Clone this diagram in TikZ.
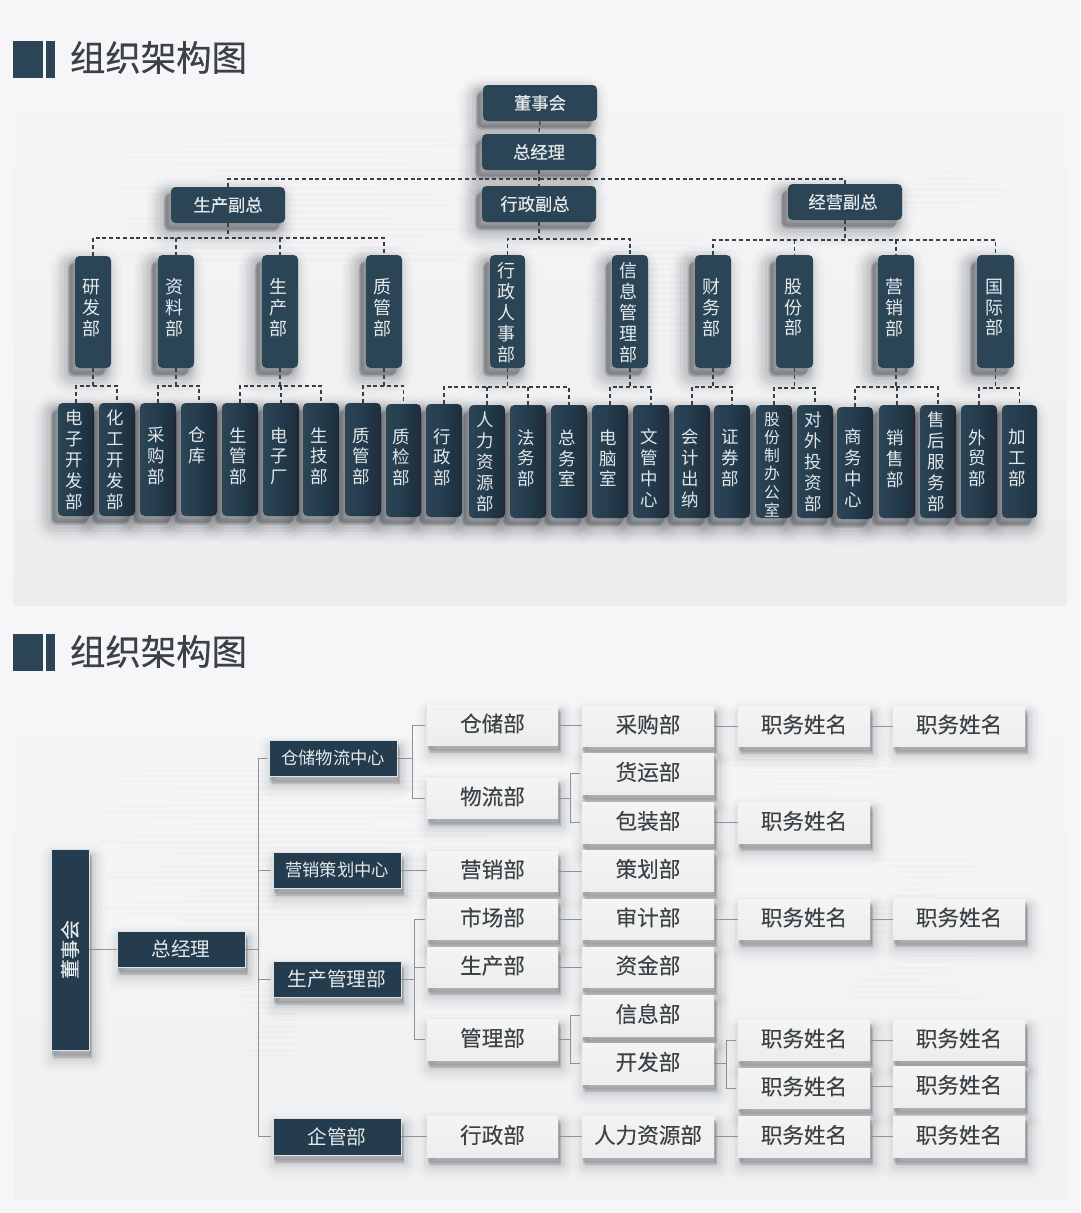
\documentclass[tikz,border=0pt]{standalone}
\usepackage{fontspec}
\setmainfont{Noto Sans CJK SC}
\newfontfamily\heavyfont[FakeBold=0.35]{Noto Sans CJK SC}
\newfontfamily\titlefont[FakeBold=0.45]{Noto Sans CJK SC}
\newfontfamily\softfont[FakeBold=0.12]{Noto Sans CJK SC}
\definecolor{pagebg}{HTML}{F6F6F8}
\definecolor{panelbg}{HTML}{ECEDEF}
\definecolor{navy}{HTML}{2B4556}
\definecolor{navydeep}{HTML}{1F3444}
\definecolor{navyflat}{HTML}{243C4D}
\definecolor{lightbox}{HTML}{F2F2F3}
\definecolor{lighttext}{HTML}{E4E9EC}
\definecolor{inktext}{HTML}{3B4246}
\definecolor{solidline}{HTML}{8C9296}
\definecolor{dashline}{HTML}{3A3F44}
\definecolor{shade}{HTML}{20262C}
\newcommand\bx[7][]{\node[#1,minimum width={(#5-#3)*1pt},minimum height={(#6-#4)*1pt}] (#2) at ({(#3+#5)/2},{(#4+#6)/2}) {#7};}
\newcommand\vst[4]{\makebox[0pt]{\kern\dimexpr#1pt-1pt\relax\raisebox{\dimexpr#2pt-5pt\relax}[0pt][0pt]{\parbox[c]{40pt}{\centering\baselineskip=#3pt\lineskiplimit=-30pt\relax #4}}}}
% dashed tree: parent, bus y, first child, last child, other children
\newcommand\dtree[5]{%
  \coordinate (bus#1) at (0,#2);
  \draw[dashconn] (#1.south) -- (#1.south |- bus#1);
  \draw[dashconn] (#3.north) |- (#4.north |- bus#1) -- (#4.north);
  \foreach \c in {#5}{\draw[dashconn] (\c.north |- bus#1) -- (\c.north);}
}
% solid tree: parent, bus offset, children
\newcommand\stree[3]{%
  \coordinate (j#1) at ([xshift=#2pt]#1.east);
  \draw[solidconn] (#1.east) -- (j#1);
  \foreach \c in {#3}{\draw[solidconn,shorten >=2pt] (j#1) |- (\c.west);}
}
\newcommand\slink[2]{\draw[solidconn] (#1.east) -- (#1.east -| #2.west);}
\tikzset{
  sl/.style n args={4}{preaction={draw=shade,fill=shade,opacity=#1,line width=#2pt,line join=round,transform canvas={xshift=#3pt,yshift=#4pt}}},
  softleft/.style={
    sl={.014}{36}{-7}{-9},sl={.02}{31}{-7}{-9},sl={.028}{26}{-7}{-9},sl={.04}{21}{-7}{-8},
    sl={.05}{16}{-7}{-8},sl={.06}{11}{-6}{-7},sl={.07}{6}{-5}{-6},sl={.08}{2}{-5}{-6}},
  softright/.style={
    sl={.012}{28}{3}{-9},sl={.018}{22}{3}{-9},sl={.024}{17}{3}{-8},sl={.034}{12}{3}{-8},
    sl={.045}{7}{3}{-7},sl={.07}{3}{2}{-6},sl={.10}{.5}{1}{-4}},
  topbox/.style={softleft,rounded corners=4.5pt,fill=navy,text=lighttext,inner sep=0pt,font=\heavyfont\fontsize{17.3}{20}\selectfont},
  midbox/.style={softleft,rounded corners=4.5pt,fill=navy,text=lighttext,inner sep=0pt,font=\fontsize{18}{20}\selectfont},
  lowbox/.style={softleft,rounded corners=4.5pt,left color=navy,right color=navydeep,text=lighttext,inner sep=0pt,font=\fontsize{17.5}{20}\selectfont},
  darkrect/.style={softright,fill=navyflat,draw=white!85!navy,line width=.9pt,text=lighttext,inner sep=0pt},
  paperbox/.style={softright,top color=lightbox!85!white,bottom color=lightbox!98!black,text=inktext,inner sep=0pt,text height=19pt,text depth=5.6pt,font=\softfont\fontsize{21.6}{24}\selectfont},
  dashconn/.style={draw=dashline,line width=1.25pt,dash pattern=on 4pt off 2.8pt},
  solidconn/.style={draw=solidline,line width=1pt},
  titlebar/.style={fill=navy,draw=none,inner sep=0pt},
  titletext/.style={text=inktext,inner sep=0pt,font=\titlefont\fontsize{35.4}{38}\selectfont},
}
\begin{document}
\begin{tikzpicture}[x=1pt,y=-1pt]
\path[use as bounding box,fill=pagebg] (0,0) rectangle (1080,1213);
% panels
\shade[top color=pagebg,bottom color=panelbg] (13,80) rectangle (1067,605);
\shade[top color=pagebg,bottom color=panelbg!60!pagebg] (13,690) rectangle (1067,1200);
% faint map streaks
\begin{scope}[draw=shade,line width=2pt,opacity=.016]
\foreach \yy in {140,146,...,260}{\draw ({170+50*sin(\yy*11)},\yy) -- ({430+50*sin(\yy*13)},\yy);}
\foreach \yy in {240,246,...,340}{\draw ({610+20*sin(\yy*7)},\yy) -- ({700+30*sin(\yy*9)},\yy);}
\foreach \yy in {160,166,...,210}{\draw ({920+30*sin(\yy*5)},\yy) -- ({980+30*sin(\yy*8)},\yy);}
\foreach \yy in {770,776,...,920}{\draw ({150+50*sin(\yy*11)},\yy) -- ({430+60*sin(\yy*13)},\yy);}
\foreach \yy in {760,766,...,800}{\draw ({750+30*sin(\yy*7)},\yy) -- ({860+40*sin(\yy*9)},\yy);}
\foreach \yy in {860,866,...,1000}{\draw ({880+30*sin(\yy*5)},\yy) -- ({950+30*sin(\yy*8)},\yy);}
\foreach \yy in {990,996,...,1060}{\draw ({250+10*sin(\yy*5)},\yy) -- ({300-\yy/30+30},\yy);}
\end{scope}
% titles
\bx[titlebar]{barAa}{13}{41}{43}{78}{}
\bx[titlebar]{barAb}{46}{41}{55}{78}{}
\bx[titletext]{titleA}{70}{40}{247}{75}{组织架构图}
\bx[titlebar]{barBa}{13}{634}{43}{671}{}
\bx[titlebar]{barBb}{46}{634}{55}{671}{}
\bx[titletext]{titleB}{70}{634}{247}{669}{组织架构图}
% ---- upper chart
\bx[topbox]{dsh}{483}{85}{597}{121}{董事会}
\bx[topbox]{zjl}{482}{134}{596}{170}{总经理}
\bx[topbox]{vpa}{171}{187}{285}{223}{生产副总}
\bx[topbox]{vpb}{482}{186}{596}{222}{\kern-8pt 行政副总}
\bx[topbox]{vpc}{788}{184}{902}{220}{\kern-4pt 经营副总}
\bx[midbox]{ya}{75}{256}{111}{368}{\vst{-2}{4.5}{20.6}{研\\发\\部}}
\bx[midbox]{yb}{158}{255}{194}{368}{\vst{-2}{4.5}{20.6}{资\\料\\部}}
\bx[midbox]{yc}{262}{255}{298}{368}{\vst{-2}{4.5}{20.6}{生\\产\\部}}
\bx[midbox]{yd}{366}{255}{402}{368}{\vst{-2}{4.5}{20.6}{质\\管\\部}}
\bx[midbox]{ye}{490}{255}{525}{368}{\vst{-2}{0}{21}{行\\政\\人\\事\\部}}
\bx[midbox]{yf}{612}{255}{648}{368}{\vst{-2}{0}{21}{信\\息\\管\\理\\部}}
\bx[midbox]{yg}{695}{255}{731}{368}{\vst{-2}{4.5}{20.6}{财\\务\\部}}
\bx[midbox]{yh}{776}{255}{813}{368}{\vst{-2}{4.5}{20.6}{股\\份\\部}}
\bx[midbox]{yi}{878}{255}{914}{368}{\vst{-2}{4.5}{20.6}{营\\销\\部}}
\bx[midbox]{yj}{977}{255}{1014}{368}{\vst{-2}{4.5}{20.6}{国\\际\\部}}
\bx[lowbox]{za}{58}{403}{94}{516}{\vst{-3}{0}{21}{电\\子\\开\\发\\部}}
\bx[lowbox]{zb}{99}{403}{135}{516}{\vst{-3}{0}{21}{化\\工\\开\\发\\部}}
\bx[lowbox]{zc}{140}{403}{176}{516}{\vst{-3}{4}{20.8}{采\\购\\部}}
\bx[lowbox]{zd}{181}{403}{217}{516}{\vst{-3}{15}{21}{仓\\库}}
\bx[lowbox]{ze}{222}{403}{258}{516}{\vst{-3}{4}{20.8}{生\\管\\部}}
\bx[lowbox]{zf}{263}{403}{299}{516}{\vst{-3}{4}{20.8}{电\\子\\厂}}
\bx[lowbox]{zg}{303}{403}{339}{516}{\vst{-3}{4}{20.8}{生\\技\\部}}
\bx[lowbox]{zh}{345}{403}{381}{516}{\vst{-3}{4}{20.8}{质\\管\\部}}
\bx[lowbox]{zi}{386}{404}{421}{517}{\vst{-3}{4}{20.8}{质\\检\\部}}
\bx[lowbox]{zj}{426}{404}{462}{517}{\vst{-3}{4}{20.8}{行\\政\\部}}
\bx[lowbox]{zk}{469}{405}{505}{518}{\vst{-3}{0}{21}{人\\力\\资\\源\\部}}
\bx[lowbox]{zl}{510}{405}{546}{518}{\vst{-3}{4}{20.8}{法\\务\\部}}
\bx[lowbox]{zm}{551}{405}{587}{518}{\vst{-3}{4}{20.8}{总\\务\\室}}
\bx[lowbox]{zn}{592}{405}{628}{518}{\vst{-3}{4}{20.8}{电\\脑\\室}}
\bx[lowbox]{zo}{633}{405}{669}{518}{\vst{-3}{-6}{21}{文\\管\\中\\心}}
\bx[lowbox]{zp}{674}{405}{710}{518}{\vst{-3}{-6}{21}{会\\计\\出\\纳}}
\bx[lowbox]{zq}{714}{405}{750}{518}{\vst{-3}{4}{20.8}{证\\券\\部}}
\bx[lowbox,font=\fontsize{15.8}{18}\selectfont]{zr}{756}{405}{792}{518}{\vst{-3}{-2}{18.3}{股\\份\\制\\办\\公\\室}}
\bx[lowbox]{zs}{797}{405}{833}{518}{\vst{-3}{0}{21}{对\\外\\投\\资\\部}}
\bx[lowbox]{zt}{837}{407}{873}{519}{\vst{-3}{-4}{21}{商\\务\\中\\心}}
\bx[lowbox]{zu}{879}{405}{915}{518}{\vst{-3}{3.5}{20.8}{销\\售\\部}}
\bx[lowbox]{zv}{920}{405}{956}{518}{\vst{-3}{0}{21}{售\\后\\服\\务\\部}}
\bx[lowbox]{zw}{961}{405}{997}{518}{\vst{-3}{4}{20.8}{外\\贸\\部}}
\bx[lowbox]{zx}{1002}{405}{1037}{518}{\vst{-3}{4}{20.8}{加\\工\\部}}
% dashed connectors
\draw[dashconn] (dsh.south) -- (zjl.north);
\draw[dashconn] (zjl.south) -- (vpb.north);
\coordinate (busTop) at (0,179);
\draw[dashconn] (vpa.north) |- (vpc.north |- busTop) -- (vpc.north);
\dtree{vpa}{238}{ya}{yd}{yb,yc}
\dtree{vpb}{239}{ye}{yf}{}
\dtree{vpc}{240}{yg}{yj}{yh,yi}
\dtree{ya}{386}{za}{zb}{}
\dtree{yb}{386}{zc}{zd}{}
\dtree{yc}{386}{ze}{zg}{zf}
\dtree{yd}{386}{zh}{zi}{}
\dtree{ye}{387}{zj}{zm}{zk,zl}
\dtree{yf}{387}{zn}{zo}{}
\dtree{yg}{387}{zp}{zq}{}
\dtree{yh}{388}{zr}{zs}{}
\dtree{yi}{387}{zt}{zv}{zu}
\dtree{yj}{388}{zw}{zx}{}
% ---- lower chart
\bx[darkrect]{bda}{51}{849}{89}{1050}{\rotatebox{90}{\softfont\fontsize{19.6}{22}\selectfont 董事会}}
\bx[darkrect,font=\fontsize{19.6}{22}\selectfont]{bzj}{117}{931}{245}{967}{总经理}
\bx[darkrect,font=\fontsize{17.3}{20}\selectfont]{ca}{269}{740}{397}{776}{仓储物流中心}
\bx[darkrect,font=\fontsize{17.3}{20}\selectfont]{cb}{273}{852}{401}{888}{营销策划中心}
\bx[darkrect,font=\fontsize{19.7}{22}\selectfont]{cc}{273}{961}{401}{997}{生产管理部}
\bx[darkrect,font=\fontsize{19.7}{22}\selectfont]{cd}{273}{1118}{401}{1155}{企管部}
\bx[paperbox]{aa}{427}{705}{558}{745}{仓储部}
\bx[paperbox]{ab}{427}{778}{558}{818}{物流部}
\bx[paperbox]{ac}{427}{851}{558}{891}{营销部}
\bx[paperbox]{ad}{427}{899}{558}{939}{市场部}
\bx[paperbox]{ae}{427}{947}{558}{987}{生产部}
\bx[paperbox]{af}{427}{1019}{558}{1060}{管理部}
\bx[paperbox]{ag}{427}{1116}{558}{1157}{行政部}
\bx[paperbox]{ba}{582}{706}{714}{746}{采购部}
\bx[paperbox]{bb}{582}{753}{714}{794}{货运部}
\bx[paperbox]{bc}{582}{802}{714}{843}{包装部}
\bx[paperbox]{bd}{582}{850}{714}{891}{策划部}
\bx[paperbox]{be}{582}{899}{714}{939}{审计部}
\bx[paperbox]{bf}{582}{947}{714}{987}{资金部}
\bx[paperbox]{bg}{582}{995}{714}{1036}{信息部}
\bx[paperbox]{bh}{582}{1043}{714}{1084}{开发部}
\bx[paperbox]{bi}{582}{1116}{714}{1157}{人力资源部}
\bx[paperbox]{da}{738}{706}{870}{746}{职务姓名}
\bx[paperbox]{db}{738}{802}{870}{843}{职务姓名}
\bx[paperbox]{dc}{738}{899}{870}{939}{职务姓名}
\bx[paperbox]{dd}{738}{1020}{870}{1060}{职务姓名}
\bx[paperbox]{de}{738}{1068}{870}{1108}{职务姓名}
\bx[paperbox]{df}{738}{1116}{870}{1157}{职务姓名}
\bx[paperbox]{ea}{893}{706}{1025}{746}{职务姓名}
\bx[paperbox]{ec}{893}{899}{1025}{939}{职务姓名}
\bx[paperbox]{ed}{893}{1020}{1025}{1060}{职务姓名}
\bx[paperbox]{ee}{893}{1066}{1025}{1107}{职务姓名}
\bx[paperbox]{ef}{893}{1116}{1025}{1157}{职务姓名}
% solid connectors
\slink{bda}{bzj}
\stree{bzj}{13.5}{ca,cb,cc,cd}
\stree{ca}{15.5}{aa,ab}
\slink{cb}{ac}
\stree{cc}{13.5}{ad,ae,af}
\slink{cd}{ag}
\slink{aa}{ba}
\stree{ab}{12}{bb,bc}
\slink{ac}{bd}
\slink{ad}{be}
\slink{ae}{bf}
\stree{af}{12}{bg,bh}
\slink{ag}{bi}
\slink{ba}{da}
\slink{bc}{db}
\slink{be}{dc}
\stree{bh}{12}{dd,de}
\slink{bi}{df}
\slink{da}{ea}
\slink{dc}{ec}
\slink{dd}{ed}
\draw[solidconn] (de.east |- ee.west) -- (ee.west);
\slink{df}{ef}
\end{tikzpicture}
\end{document}
